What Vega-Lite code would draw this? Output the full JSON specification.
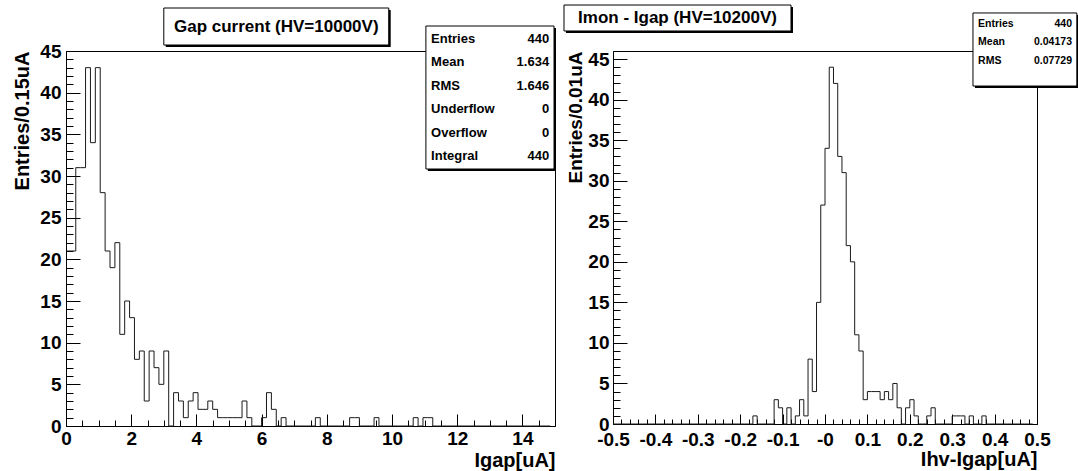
{
  "$schema": "https://vega.github.io/schema/vega-lite/v6.json",
  "background": "white",
  "padding": {"left": 12, "top": 4, "right": 0, "bottom": 0},
  "spacing": 58,
  "bounds": "flush",
  "datasets": {
    "gap": [
      {"x":0,"n":21},{"x":0.15,"n":21},{"x":0.3,"n":31},{"x":0.45,"n":31},{"x":0.6,"n":43},{"x":0.75,"n":34},{"x":0.9,"n":43},{"x":1.05,"n":28},{"x":1.2,"n":21},{"x":1.35,"n":19},
      {"x":1.5,"n":22},{"x":1.65,"n":11},{"x":1.8,"n":15},{"x":1.95,"n":13},{"x":2.1,"n":8},{"x":2.25,"n":9},{"x":2.4,"n":3},{"x":2.55,"n":9},{"x":2.7,"n":7},{"x":2.85,"n":5},
      {"x":3,"n":9},{"x":3.15,"n":0},{"x":3.3,"n":4},{"x":3.45,"n":3},{"x":3.6,"n":1},{"x":3.75,"n":3},{"x":3.9,"n":4},{"x":4.05,"n":2},{"x":4.2,"n":2},{"x":4.35,"n":3},
      {"x":4.5,"n":2},{"x":4.65,"n":1},{"x":4.8,"n":1},{"x":4.95,"n":1},{"x":5.1,"n":1},{"x":5.25,"n":1},{"x":5.4,"n":3},{"x":5.55,"n":1},{"x":5.7,"n":0},{"x":5.85,"n":0},
      {"x":6,"n":1},{"x":6.15,"n":4},{"x":6.3,"n":2},{"x":6.45,"n":0},{"x":6.6,"n":1},{"x":6.75,"n":0},{"x":6.9,"n":0},{"x":7.05,"n":0},{"x":7.2,"n":0},{"x":7.35,"n":0},
      {"x":7.5,"n":0},{"x":7.65,"n":1},{"x":7.8,"n":0},{"x":7.95,"n":0},{"x":8.1,"n":0},{"x":8.25,"n":0},{"x":8.4,"n":0},{"x":8.55,"n":0},{"x":8.7,"n":1},{"x":8.85,"n":1},
      {"x":9,"n":0},{"x":9.15,"n":0},{"x":9.3,"n":0},{"x":9.45,"n":1},{"x":9.6,"n":0},{"x":9.75,"n":0},{"x":9.9,"n":0},{"x":10.05,"n":0},{"x":10.2,"n":0},{"x":10.35,"n":0},
      {"x":10.5,"n":0},{"x":10.65,"n":1},{"x":10.8,"n":0},{"x":10.95,"n":1},{"x":11.1,"n":1},{"x":11.25,"n":0},{"x":11.4,"n":0},{"x":11.55,"n":0},{"x":11.7,"n":0},{"x":11.85,"n":0},
      {"x":12,"n":0},{"x":12.15,"n":0},{"x":12.3,"n":0},{"x":12.45,"n":0},{"x":12.6,"n":0},{"x":12.75,"n":0},{"x":12.9,"n":0},{"x":13.05,"n":0},{"x":13.2,"n":0},{"x":13.35,"n":0},
      {"x":13.5,"n":0},{"x":13.65,"n":0},{"x":13.8,"n":0},{"x":13.95,"n":0},{"x":14.1,"n":0},{"x":14.25,"n":0},{"x":14.4,"n":0},{"x":14.55,"n":0},{"x":14.7,"n":0},{"x":14.85,"n":0}
    ],
    "diff": [
      {"x":-0.5,"n":0},{"x":-0.49,"n":0},{"x":-0.48,"n":0},{"x":-0.47,"n":0},{"x":-0.46,"n":0},{"x":-0.45,"n":0},{"x":-0.44,"n":0},{"x":-0.43,"n":0},{"x":-0.42,"n":0},{"x":-0.41,"n":0},
      {"x":-0.4,"n":0},{"x":-0.39,"n":0},{"x":-0.38,"n":0},{"x":-0.37,"n":0},{"x":-0.36,"n":0},{"x":-0.35,"n":0},{"x":-0.34,"n":0},{"x":-0.33,"n":0},{"x":-0.32,"n":0},{"x":-0.31,"n":0},
      {"x":-0.3,"n":0},{"x":-0.29,"n":0},{"x":-0.28,"n":0},{"x":-0.27,"n":0},{"x":-0.26,"n":0},{"x":-0.25,"n":0},{"x":-0.24,"n":0},{"x":-0.23,"n":0},{"x":-0.22,"n":0},{"x":-0.21,"n":0},
      {"x":-0.2,"n":0},{"x":-0.19,"n":0},{"x":-0.18,"n":0},{"x":-0.17,"n":1},{"x":-0.16,"n":0},{"x":-0.15,"n":0},{"x":-0.14,"n":0},{"x":-0.13,"n":0},{"x":-0.12,"n":3},{"x":-0.11,"n":2},
      {"x":-0.1,"n":0},{"x":-0.09,"n":2},{"x":-0.08,"n":0},{"x":-0.07,"n":1},{"x":-0.06,"n":3},{"x":-0.05,"n":1},{"x":-0.04,"n":8},{"x":-0.03,"n":4},{"x":-0.02,"n":15},{"x":-0.01,"n":27},
      {"x":0,"n":34},{"x":0.01,"n":44},{"x":0.02,"n":42},{"x":0.03,"n":33},{"x":0.04,"n":31},{"x":0.05,"n":22},{"x":0.06,"n":20},{"x":0.07,"n":11},{"x":0.08,"n":9},{"x":0.09,"n":3},
      {"x":0.1,"n":4},{"x":0.11,"n":4},{"x":0.12,"n":4},{"x":0.13,"n":3},{"x":0.14,"n":4},{"x":0.15,"n":3},{"x":0.16,"n":5},{"x":0.17,"n":2},{"x":0.18,"n":0},{"x":0.19,"n":2},
      {"x":0.2,"n":3},{"x":0.21,"n":1},{"x":0.22,"n":0},{"x":0.23,"n":0},{"x":0.24,"n":1},{"x":0.25,"n":2},{"x":0.26,"n":0},{"x":0.27,"n":0},{"x":0.28,"n":0},{"x":0.29,"n":0},
      {"x":0.3,"n":1},{"x":0.31,"n":1},{"x":0.32,"n":1},{"x":0.33,"n":0},{"x":0.34,"n":1},{"x":0.35,"n":0},{"x":0.36,"n":0},{"x":0.37,"n":1},{"x":0.38,"n":0},{"x":0.39,"n":0},
      {"x":0.4,"n":0},{"x":0.41,"n":0},{"x":0.42,"n":0},{"x":0.43,"n":0},{"x":0.44,"n":0},{"x":0.45,"n":0},{"x":0.46,"n":0},{"x":0.47,"n":0},{"x":0.48,"n":0},{"x":0.49,"n":0}
    ],
    "titleL": [{"t": "Gap current (HV=10000V)"}],
    "titleR": [{"t": "Imon - Igap (HV=10200V)"}],
    "statsL": [{"names": ["Entries", "Mean", "RMS", "Underflow", "Overflow", "Integral"], "vals": ["440", "1.634", "1.646", "0", "0", "440"]}],
    "statsR": [{"names": ["Entries", "Mean", "RMS"], "vals": ["440", "0.04173", "0.07729"]}]
  },
  "hconcat": [
    {
      "width": 489,
      "height": 375,
      "resolve": {"axis": {"x": "independent", "y": "independent"}},
      "layer": [
        {
          "data": {"name": "gap"},
          "mark": {"type": "line", "interpolate": "step-after", "color": "#1a1a1a", "strokeWidth": 1},
          "encoding": {
            "x": {"field": "x", "type": "quantitative", "scale": {"domain": [0, 15], "nice": false, "zero": false},
                  "axis": {"orient": "bottom", "values": [0, 2, 4, 6, 8, 10, 12, 14], "format": "d", "tickSize": -12, "labelPadding": 15, "title": "Igap[uA]", "titleAnchor": "end", "titlePadding": 2}},
            "y": {"field": "n", "type": "quantitative", "scale": {"domain": [0, 45], "nice": false},
                  "axis": {"orient": "left", "values": [0, 5, 10, 15, 20, 25, 30, 35, 40, 45], "tickSize": -14, "labelPadding": 19, "title": "Entries/0.15uA", "titleAnchor": "end", "titlePadding": 7}}
          }
        },
        {
          "data": {"name": "gap"},
          "mark": {"type": "line", "strokeOpacity": 0},
          "encoding": {
            "x": {"field": "x", "type": "quantitative",
                  "axis": {"orient": "bottom", "values": [0,0.5,1,1.5,2,2.5,3,3.5,4,4.5,5,5.5,6,6.5,7,7.5,8,8.5,9,9.5,10,10.5,11,11.5,12,12.5,13,13.5,14,14.5,15], "tickSize": -6, "labels": false, "title": null}},
            "y": {"field": "n", "type": "quantitative",
                  "axis": {"orient": "left", "values": [0,1,2,3,4,5,6,7,8,9,10,11,12,13,14,15,16,17,18,19,20,21,22,23,24,25,26,27,28,29,30,31,32,33,34,35,36,37,38,39,40,41,42,43,44,45], "tickSize": -7, "labels": false, "title": null}}
          }
        },
        {
          "data": {"name": "titleL"},
          "mark": {"type": "rect", "fill": "black"},
          "encoding": {
            "x": {"datum": 3.06, "type": "quantitative", "axis": null}, "x2": {"datum": 9.96},
            "y": {"datum": 49.92, "type": "quantitative", "axis": null}, "y2": {"datum": 45.48}
          }
        },
        {
          "data": {"name": "titleL"},
          "mark": {"type": "rect", "fill": "white", "stroke": "black", "strokeWidth": 1},
          "encoding": {
            "x": {"datum": 3.0, "type": "quantitative", "axis": null}, "x2": {"datum": 9.9},
            "y": {"datum": 50.16, "type": "quantitative", "axis": null}, "y2": {"datum": 45.72}
          }
        },
        {
          "data": {"name": "titleL"},
          "mark": {"type": "text", "font": "Liberation Sans", "fontSize": 17, "fontWeight": "bold", "align": "center", "baseline": "middle", "color": "black"},
          "encoding": {
            "x": {"datum": 6.45, "type": "quantitative", "axis": null},
            "y": {"datum": 47.94, "type": "quantitative", "axis": null},
            "text": {"field": "t", "type": "nominal"}
          }
        },
        {
          "data": {"name": "statsL"},
          "mark": {"type": "rect", "fill": "black"},
          "encoding": {
            "x": {"datum": 11.1, "type": "quantitative", "axis": null}, "x2": {"datum": 15.03},
            "y": {"datum": 47.76, "type": "quantitative", "axis": null}, "y2": {"datum": 30.6}
          }
        },
        {
          "data": {"name": "statsL"},
          "mark": {"type": "rect", "fill": "white", "stroke": "black", "strokeWidth": 1},
          "encoding": {
            "x": {"datum": 11.04, "type": "quantitative", "axis": null}, "x2": {"datum": 14.97},
            "y": {"datum": 48.0, "type": "quantitative", "axis": null}, "y2": {"datum": 30.84}
          }
        },
        {
          "data": {"name": "statsL"},
          "mark": {"type": "text", "font": "Liberation Sans", "fontSize": 13, "fontWeight": "bold", "align": "left", "baseline": "middle", "lineHeight": 23.5, "color": "black"},
          "encoding": {
            "x": {"datum": 11.2, "type": "quantitative", "axis": null},
            "y": {"datum": 46.48, "type": "quantitative", "axis": null},
            "text": {"field": "names", "type": "nominal"}
          }
        },
        {
          "data": {"name": "statsL"},
          "mark": {"type": "text", "font": "Liberation Sans", "fontSize": 13, "fontWeight": "bold", "align": "right", "baseline": "middle", "lineHeight": 23.5, "color": "black"},
          "encoding": {
            "x": {"datum": 14.82, "type": "quantitative", "axis": null},
            "y": {"datum": 46.48, "type": "quantitative", "axis": null},
            "text": {"field": "vals", "type": "nominal"}
          }
        }
      ]
    },
    {
      "width": 424,
      "height": 373,
      "resolve": {"axis": {"x": "independent", "y": "independent"}},
      "layer": [
        {
          "data": {"name": "diff"},
          "mark": {"type": "line", "interpolate": "step-after", "color": "#1a1a1a", "strokeWidth": 1},
          "encoding": {
            "x": {"field": "x", "type": "quantitative", "scale": {"domain": [-0.5, 0.5], "nice": false, "zero": false},
                  "axis": {"orient": "bottom", "values": [-0.5, -0.4, -0.3, -0.2, -0.1, 0, 0.1, 0.2, 0.3, 0.4, 0.5], "labelExpr": "abs(datum.value) < 0.001 ? '-0' : replace(format(datum.value, '.1f'), '\u2212', '-')", "tickSize": -10, "labelPadding": 16, "title": "Ihv-Igap[uA]", "titleAnchor": "end", "titlePadding": 0}},
            "y": {"field": "n", "type": "quantitative", "scale": {"domain": [0, 46], "nice": false},
                  "axis": {"orient": "left", "values": [0, 5, 10, 15, 20, 25, 30, 35, 40, 45], "tickSize": -14, "labelPadding": 18, "title": "Entries/0.01uA", "titleAnchor": "end", "titleFontSize": 19, "titlePadding": 2}}
          }
        },
        {
          "data": {"name": "diff"},
          "mark": {"type": "line", "strokeOpacity": 0},
          "encoding": {
            "x": {"field": "x", "type": "quantitative",
                  "axis": {"orient": "bottom", "values": [-0.5,-0.48,-0.46,-0.44,-0.42,-0.4,-0.38,-0.36,-0.34,-0.32,-0.3,-0.28,-0.26,-0.24,-0.22,-0.2,-0.18,-0.16,-0.14,-0.12,-0.1,-0.08,-0.06,-0.04,-0.02,0,0.02,0.04,0.06,0.08,0.1,0.12,0.14,0.16,0.18,0.2,0.22,0.24,0.26,0.28,0.3,0.32,0.34,0.36,0.38,0.4,0.42,0.44,0.46,0.48,0.5], "tickSize": -5, "labels": false, "title": null}},
            "y": {"field": "n", "type": "quantitative",
                  "axis": {"orient": "left", "values": [0,1,2,3,4,5,6,7,8,9,10,11,12,13,14,15,16,17,18,19,20,21,22,23,24,25,26,27,28,29,30,31,32,33,34,35,36,37,38,39,40,41,42,43,44,45,46], "tickSize": -7, "labels": false, "title": null}}
          }
        },
        {
          "data": {"name": "titleR"},
          "mark": {"type": "rect", "fill": "black"},
          "encoding": {
            "x": {"datum": -0.611, "type": "quantitative", "axis": null}, "x2": {"datum": -0.0755},
            "y": {"datum": 51.42, "type": "quantitative", "axis": null}, "y2": {"datum": 48.22}
          }
        },
        {
          "data": {"name": "titleR"},
          "mark": {"type": "rect", "fill": "white", "stroke": "black", "strokeWidth": 1},
          "encoding": {
            "x": {"datum": -0.6156, "type": "quantitative", "axis": null}, "x2": {"datum": -0.0802},
            "y": {"datum": 51.67, "type": "quantitative", "axis": null}, "y2": {"datum": 48.47}
          }
        },
        {
          "data": {"name": "titleR"},
          "mark": {"type": "text", "font": "Liberation Sans", "fontSize": 17, "fontWeight": "bold", "align": "center", "baseline": "middle", "color": "black"},
          "encoding": {
            "x": {"datum": -0.3479, "type": "quantitative", "axis": null},
            "y": {"datum": 50.07, "type": "quantitative", "axis": null},
            "text": {"field": "t", "type": "nominal"}
          }
        },
        {
          "data": {"name": "statsR"},
          "mark": {"type": "rect", "fill": "black"},
          "encoding": {
            "x": {"datum": 0.3537, "type": "quantitative", "axis": null}, "x2": {"datum": 0.5985},
            "y": {"datum": 50.44, "type": "quantitative", "axis": null}, "y2": {"datum": 41.43}
          }
        },
        {
          "data": {"name": "statsR"},
          "mark": {"type": "rect", "fill": "white", "stroke": "black", "strokeWidth": 1},
          "encoding": {
            "x": {"datum": 0.349, "type": "quantitative", "axis": null}, "x2": {"datum": 0.594},
            "y": {"datum": 50.69, "type": "quantitative", "axis": null}, "y2": {"datum": 41.68}
          }
        },
        {
          "data": {"name": "statsR"},
          "mark": {"type": "text", "font": "Liberation Sans", "fontSize": 10.5, "fontWeight": "bold", "align": "left", "baseline": "middle", "lineHeight": 18.3, "color": "black"},
          "encoding": {
            "x": {"datum": 0.361, "type": "quantitative", "axis": null},
            "y": {"datum": 49.33, "type": "quantitative", "axis": null},
            "text": {"field": "names", "type": "nominal"}
          }
        },
        {
          "data": {"name": "statsR"},
          "mark": {"type": "text", "font": "Liberation Sans", "fontSize": 10.5, "fontWeight": "bold", "align": "right", "baseline": "middle", "lineHeight": 18.3, "color": "black"},
          "encoding": {
            "x": {"datum": 0.5825, "type": "quantitative", "axis": null},
            "y": {"datum": 49.33, "type": "quantitative", "axis": null},
            "text": {"field": "vals", "type": "nominal"}
          }
        }
      ]
    }
  ],
  "config": {
    "view": {"stroke": "black", "strokeWidth": 1},
    "font": "Liberation Sans",
    "axis": {
      "grid": false,
      "domain": false,
      "ticks": true,
      "tickColor": "black",
      "tickWidth": 1,
      "labelColor": "black",
      "labelFont": "Liberation Sans",
      "labelFontWeight": "bold",
      "labelFontSize": 19,
      "labelOverlap": false,
      "labelFlush": false,
      "labelBound": false,
      "titleColor": "black",
      "titleFont": "Liberation Sans",
      "titleFontWeight": "bold",
      "titleFontSize": 20
    }
  }
}
